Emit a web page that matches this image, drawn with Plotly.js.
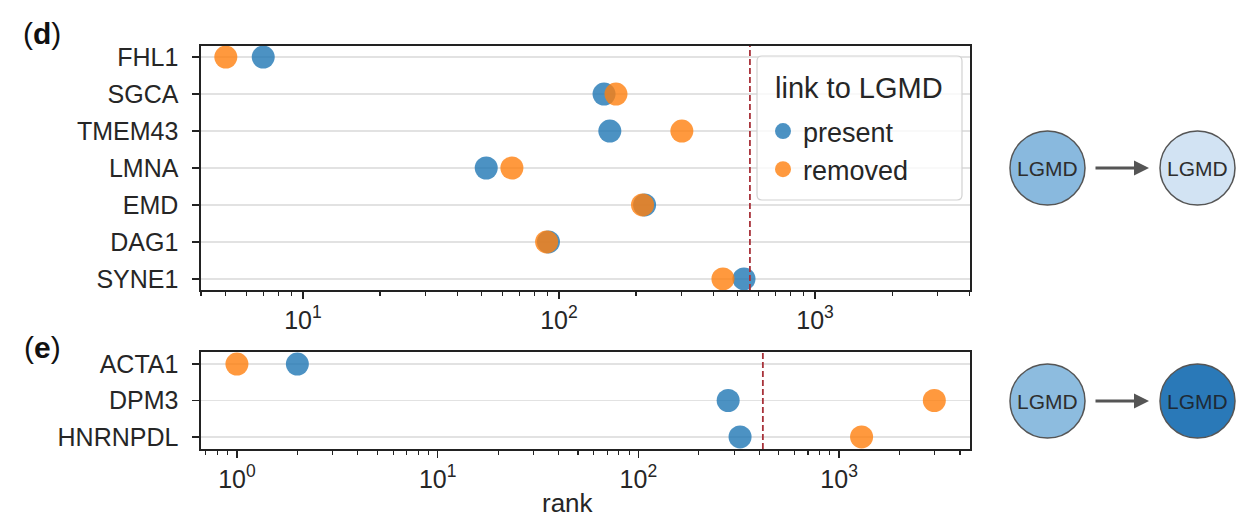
<!DOCTYPE html>
<html>
<head>
<meta charset="utf-8">
<script src="https://cdn.plot.ly/plotly-3.0.1.min.js"></script>
<style>html,body{margin:0;padding:0;background:#fff}#chart{width:1255px;height:518px}</style>
</head>
<body>
<div id="chart"></div>
<script>
// ---- data ----
const genesD = ['FHL1', 'SGCA', 'TMEM43', 'LMNA', 'EMD', 'DAG1', 'SYNE1'];
const presentD = [7, 150, 158, 52, 216, 91, 528];
const removedD = [5, 167, 302, 65.5, 212, 89.5, 437];
const thresholdD = 557;

const genesE = ['ACTA1', 'DPM3', 'HNRNPDL'];
const presentE = [2, 280, 321];
const removedE = [1, 2980, 1294];
const thresholdE = 417;

const majorTickVals = [1, 10, 100, 1000];
const majorTickText = ['10<sup>0</sup>', '10<sup>1</sup>', '10<sup>2</sup>', '10<sup>3</sup>'];
const seriesNames = ['present', 'removed'];
const legendTitle = 'link to LGMD';

// ---- styling ----
const W = 1255, H = 518;
const px = v => v / W;
const py = v => 1 - v / H;
const FONT = 'Liberation Sans, Arial, sans-serif';
const BLUE = 'rgba(31,119,180,0.8)';
const ORANGE = 'rgba(255,127,14,0.8)';
const MS = 23;

const minorVals = [];
for (let e = -1; e <= 3; e++) for (let m = 2; m <= 9; m++) minorVals.push(m * Math.pow(10, e));

function mk(x, y, name, color, xa, ya, show) {
  return {
    type: 'scatter', mode: 'markers', x: x, y: y, name: name,
    xaxis: xa, yaxis: ya, showlegend: show, legendgroup: name,
    marker: {size: MS, color: color, line: {width: 0}},
    hoverinfo: 'x+y+name'
  };
}

const data = [
  mk(presentD, genesD, seriesNames[0], BLUE, 'x', 'y', true),
  mk(removedD, genesD, seriesNames[1], ORANGE, 'x', 'y', true),
  mk(presentE, genesE, seriesNames[0], BLUE, 'x2', 'y2', false),
  mk(removedE, genesE, seriesNames[1], ORANGE, 'x2', 'y2', false)
];

const xCommon = {
  type: 'log', showgrid: false, zeroline: false,
  showline: true, mirror: true, linecolor: '#222', linewidth: 1.6,
  ticks: 'outside', ticklen: 7, tickwidth: 1.4, tickcolor: '#222',
  tickmode: 'array', tickvals: majorTickVals, ticktext: majorTickText,
  tickfont: {family: FONT, size: 25, color: '#262626'},
  minor: {tickmode: 'array', tickvals: minorVals, ticks: 'outside', ticklen: 4, tickwidth: 1.1, tickcolor: '#222', showgrid: false}
};
const yCommon = {
  type: 'category', showgrid: true, gridcolor: '#e2e2e2', gridwidth: 1.5,
  zeroline: false, showline: true, mirror: true, linecolor: '#222', linewidth: 1.6,
  ticks: 'outside', ticklen: 7, tickwidth: 1.4, tickcolor: '#222', ticklabelstandoff: 9,
  tickfont: {family: FONT, size: 25, color: '#262626'}
};

const ANN = {xref: 'paper', yref: 'paper', showarrow: false, xanchor: 'center', yanchor: 'middle'};
const lgmd = (x, y, c) => Object.assign({}, ANN, {x: px(x), y: py(y), text: 'LGMD', font: {family: FONT, size: 21, color: c}});

// rounded legend frame path (paper coords)
function roundRect(x0, y0, x1, y1, r) {
  const X = v => px(v).toFixed(5), Y = v => py(v).toFixed(5);
  return 'M' + X(x0 + r) + ',' + Y(y0) + ' L' + X(x1 - r) + ',' + Y(y0) +
    ' Q' + X(x1) + ',' + Y(y0) + ' ' + X(x1) + ',' + Y(y0 + r) +
    ' L' + X(x1) + ',' + Y(y1 - r) + ' Q' + X(x1) + ',' + Y(y1) + ' ' + X(x1 - r) + ',' + Y(y1) +
    ' L' + X(x0 + r) + ',' + Y(y1) + ' Q' + X(x0) + ',' + Y(y1) + ' ' + X(x0) + ',' + Y(y1 - r) +
    ' L' + X(x0) + ',' + Y(y0 + r) + ' Q' + X(x0) + ',' + Y(y0) + ' ' + X(x0 + r) + ',' + Y(y0) + ' Z';
}

const layout = {
  width: W, height: H,
  margin: {l: 0, r: 0, t: 0, b: 0},
  paper_bgcolor: '#fff', plot_bgcolor: '#fff',
  font: {family: FONT, color: '#262626'},
  xaxis: Object.assign({}, xCommon, {domain: [px(201), px(970)], anchor: 'y', range: [Math.log10(4.0), Math.log10(4030)]}),
  yaxis: Object.assign({}, yCommon, {domain: [py(290), py(46)], anchor: 'x', categoryorder: 'array', categoryarray: genesD, range: [6.3, -0.3]}),
  xaxis2: Object.assign({}, xCommon, {domain: [px(201), px(970)], anchor: 'y2', range: [-0.179, 3.652]}),
  yaxis2: Object.assign({}, yCommon, {domain: [py(449), py(352)], anchor: 'x2', categoryorder: 'array', categoryarray: genesE, range: [2.33, -0.33]}),
  showlegend: true,
  legend: {
    x: px(763), y: py(107), xanchor: 'left', yanchor: 'top',
    bgcolor: 'rgba(0,0,0,0)', borderwidth: 0,
    font: {family: FONT, size: 27, color: '#262626'},
    itemsizing: 'trace', tracegroupgap: 0
  },
  shapes: [
    {type: 'line', xref: 'x', yref: 'y domain', x0: thresholdD, x1: thresholdD, y0: 0, y1: 1,
     line: {color: '#a8323a', width: 1.8, dash: '6px,3px'}},
    {type: 'line', xref: 'x2', yref: 'y2 domain', x0: thresholdE, x1: thresholdE, y0: 0, y1: 1,
     line: {color: '#a8323a', width: 1.8, dash: '6px,3px'}},
    // legend frame
    {type: 'path', xref: 'paper', yref: 'paper', layer: 'above', path: roundRect(757, 56, 962, 200, 5),
     fillcolor: 'rgba(255,255,255,0.8)', line: {color: '#d2d2d2', width: 1.2}},
    // network diagrams
    {type: 'circle', xref: 'paper', yref: 'paper', x0: px(1010), x1: px(1085), y0: py(205), y1: py(131),
     fillcolor: '#89b9de', line: {color: '#555', width: 1.5}},
    {type: 'circle', xref: 'paper', yref: 'paper', x0: px(1160), x1: px(1235), y0: py(205), y1: py(131),
     fillcolor: '#d2e3f3', line: {color: '#555', width: 1.5}},
    {type: 'circle', xref: 'paper', yref: 'paper', x0: px(1010), x1: px(1085), y0: py(438), y1: py(364),
     fillcolor: '#8dbcdf', line: {color: '#555', width: 1.5}},
    {type: 'circle', xref: 'paper', yref: 'paper', x0: px(1160), x1: px(1235), y0: py(438), y1: py(364),
     fillcolor: '#2a79b8', line: {color: '#555', width: 1.5}}
  ],
  annotations: [
    Object.assign({}, ANN, {x: px(773), y: py(88), xanchor: 'left', text: legendTitle, font: {family: FONT, size: 29, color: '#262626'}}),
    Object.assign({}, ANN, {x: px(42), y: py(34), text: '(<b>d</b>)', font: {family: FONT, size: 30, color: '#111'}}),
    Object.assign({}, ANN, {x: px(42), y: py(347), text: '(<b>e</b>)', font: {family: FONT, size: 30, color: '#111'}}),
    Object.assign({}, ANN, {x: px(568), y: py(503), text: 'rank', font: {family: FONT, size: 26, color: '#262626'}}),
    lgmd(1047.5, 168, '#2e2e2e'),
    lgmd(1197.5, 168, '#2e2e2e'),
    lgmd(1047.5, 401, '#2e2e2e'),
    lgmd(1197.5, 401, '#1e2a36'),
    {xref: 'paper', yref: 'paper', x: px(1149), y: py(168), ax: -55, ay: 0, text: '', showarrow: true,
     arrowhead: 2, arrowsize: 1, arrowwidth: 3, arrowcolor: '#555', standoff: 0},
    {xref: 'paper', yref: 'paper', x: px(1149), y: py(401), ax: -55, ay: 0, text: '', showarrow: true,
     arrowhead: 2, arrowsize: 1, arrowwidth: 3, arrowcolor: '#555', standoff: 0}
  ]
};

Plotly.newPlot('chart', data, layout, {displayModeBar: false, staticPlot: true});
</script>
</body>
</html>
